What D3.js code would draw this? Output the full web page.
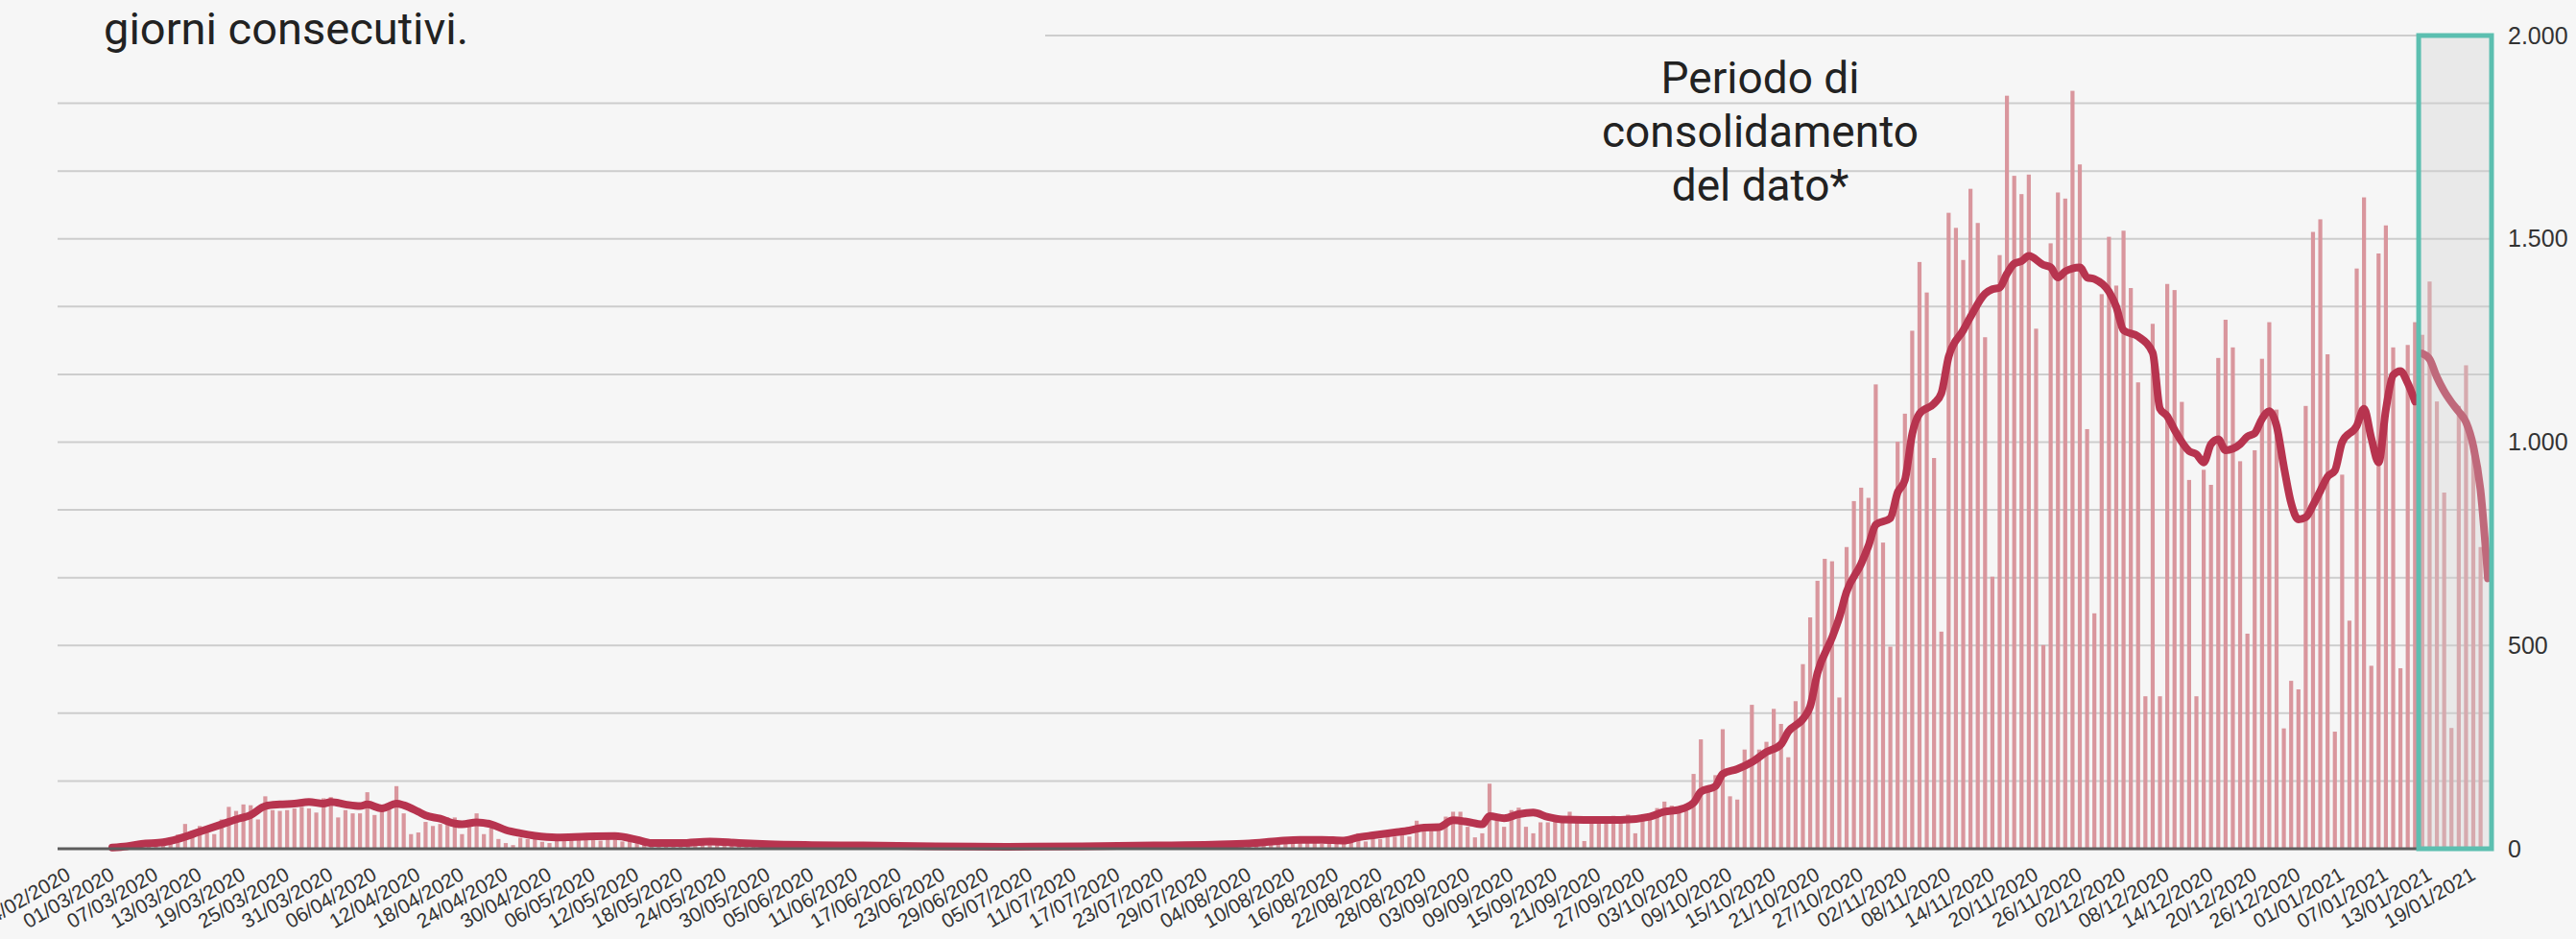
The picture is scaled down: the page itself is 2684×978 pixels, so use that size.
<!DOCTYPE html>
<html>
<head>
<meta charset="utf-8">
<script src="https://cdn.jsdelivr.net/npm/d3@7"></script>
<style>
  body { margin: 0; background: #f6f6f6; }
  svg { display: block; }
</style>
</head>
<body>
<div class="chart"></div>
<script>
// x domain: one band per day
const domainStart = "22/02/2020";
const domainEnd = "20/01/2021";
const consolidStart = "11/01/2021";

// daily counts, one value per day starting at firstBarDay
const firstBarDay = "29/02/2020";
const dailyCases = [
  1, 2, 4, 3, 6, 5, 9, 12, 16,
  35, 61, 44, 56, 40, 36, 72, 103, 93, 109, 107, 72, 129, 95, 93, 95, 99, 103, 99, 89,
  124, 127, 77, 95, 87, 87, 139, 83, 95, 103, 154, 87, 36, 40, 66, 56, 61, 77, 77, 36,
  54, 87, 36, 52, 24, 14, 9, 27, 24, 27, 17, 14, 19,
  28, 34, 22, 30, 38, 20, 32, 26, 18, 24, 14, 18, 10, 8, 12, 9, 11, 16, 12, 18, 14, 10,
  16, 12, 10, 14, 9, 11, 13, 8, 10, 9, 7, 11, 8, 6, 10, 9, 5, 8, 7, 9,
  6, 8, 5, 7, 9, 4, 6, 8, 5, 6, 4, 7, 5, 6, 3, 5, 6, 4, 7, 5,
  4, 6, 5, 7, 5, 6, 4, 8, 6, 5, 7, 6, 8, 5, 9, 7, 6, 10, 8, 7,
  9, 8, 11, 7, 10, 12, 9, 11, 13, 10, 12, 15, 11, 14,
  10, 14, 18, 12, 20, 16, 22, 18, 12, 24, 20, 14, 22, 38, 18, 26, 24, 42, 30, 36,
  30, 69, 57, 54, 54, 79, 91, 91, 54, 28, 38, 160, 69, 54, 95, 101, 54, 38, 65, 65,
  72, 69, 91, 69, 19, 75, 75, 75, 81, 75, 84, 38, 75, 81, 100, 116, 106, 94, 94, 184,
  269, 144, 181, 294, 129, 121, 244, 354, 244, 263, 344, 307, 225, 363, 454, 569, 659, 713, 707, 372,
  742, 855, 888, 863, 1142, 753, 497, 1001,
  1070, 1274, 1443, 1368, 961, 534, 1564, 1527, 1448, 1623, 1539, 1258, 669, 1460, 1852, 1655,
  1610, 1658, 1279, 501, 1489, 1614, 1599, 1864, 1683, 1032, 579, 1364, 1505, 1385, 1520, 1379,
  1147, 375, 1291, 375, 1389, 1374, 1099, 907, 375, 932, 895, 1207,
  1301, 1233, 953, 529, 980, 1205, 1295, 1080, 296, 413, 392, 1089, 1517, 1548, 1216, 288,
  920, 561, 1427, 1602, 450, 1464, 1533, 1233, 444, 1239, 1295, 1264, 1395, 1100, 876, 297,
  1089, 1189, 980, 742
];

// 7-day average line, read point by point
const avgDays = [
  "29/02/2020", "02/03/2020", "04/03/2020", "07/03/2020", "09/03/2020", "12/03/2020", "15/03/2020", "17/03/2020",
  "19/03/2020", "21/03/2020", "23/03/2020", "25/03/2020", "27/03/2020", "29/03/2020", "30/03/2020", "01/04/2020",
  "03/04/2020", "04/04/2020", "06/04/2020", "08/04/2020", "09/04/2020", "11/04/2020", "12/04/2020", "14/04/2020",
  "16/04/2020", "17/04/2020", "19/04/2020", "21/04/2020", "23/04/2020", "25/04/2020", "27/04/2020", "30/04/2020",
  "04/05/2020", "08/05/2020", "11/05/2020", "13/05/2020", "17/05/2020", "21/05/2020", "25/05/2020", "29/05/2020",
  "04/06/2020", "11/06/2020", "21/06/2020", "01/07/2020", "11/07/2020", "21/07/2020", "29/07/2020", "03/08/2020",
  "07/08/2020", "10/08/2020", "13/08/2020", "16/08/2020", "18/08/2020", "20/08/2020", "23/08/2020", "25/08/2020",
  "27/08/2020", "29/08/2020", "31/08/2020", "02/09/2020", "04/09/2020", "05/09/2020", "07/09/2020", "09/09/2020",
  "11/09/2020", "13/09/2020", "15/09/2020", "18/09/2020", "23/09/2020", "27/09/2020", "29/09/2020", "01/10/2020",
  "03/10/2020", "04/10/2020", "06/10/2020", "07/10/2020", "09/10/2020", "11/10/2020", "13/10/2020", "15/10/2020",
  "16/10/2020", "18/10/2020", "19/10/2020", "20/10/2020", "22/10/2020", "23/10/2020", "24/10/2020", "26/10/2020",
  "27/10/2020", "28/10/2020", "30/10/2020", "31/10/2020", "01/11/2020", "02/11/2020", "03/11/2020", "05/11/2020",
  "06/11/2020", "07/11/2020", "09/11/2020", "10/11/2020", "12/11/2020", "13/11/2020", "14/11/2020", "15/11/2020",
  "16/11/2020", "17/11/2020", "18/11/2020", "20/11/2020", "21/11/2020", "22/11/2020", "23/11/2020", "25/11/2020",
  "26/11/2020", "27/11/2020", "29/11/2020", "30/11/2020", "01/12/2020", "03/12/2020", "05/12/2020", "06/12/2020",
  "07/12/2020", "08/12/2020", "10/12/2020", "11/12/2020", "12/12/2020", "13/12/2020", "14/12/2020", "15/12/2020",
  "17/12/2020", "18/12/2020", "19/12/2020", "20/12/2020", "21/12/2020", "22/12/2020", "23/12/2020", "24/12/2020",
  "25/12/2020", "26/12/2020", "27/12/2020", "28/12/2020", "29/12/2020", "30/12/2020", "31/12/2020", "02/01/2021",
  "03/01/2021", "04/01/2021", "05/01/2021", "06/01/2021", "07/01/2021", "08/01/2021", "09/01/2021", "10/01/2021"
];
const avgValues = [
  3, 6, 12, 16, 24, 42, 60, 72,
  83, 105, 109, 111, 115, 111, 115, 109,
  105, 109, 99, 111, 107, 91, 82, 74,
  62, 60, 65, 60, 46, 38, 32, 28,
  30, 31, 22, 14, 14, 18, 14, 11,
  9, 8, 6, 5, 6, 8, 10, 13,
  19, 22, 22, 20, 28, 33, 40, 45,
  52, 53, 70, 66, 60, 80, 75, 85,
  89, 78, 72, 71, 71, 79, 91, 96,
  113, 140, 154, 184, 196, 213, 238, 257,
  288, 319, 350, 432, 519, 569, 632, 701,
  745, 797, 813, 876, 907, 1020, 1070, 1095,
  1120, 1210, 1275, 1308, 1365, 1376, 1380, 1414,
  1439, 1445, 1458, 1436, 1430, 1405, 1420, 1430,
  1405, 1401, 1370, 1333, 1275, 1260, 1220, 1082,
  1064, 1030, 978, 970, 950, 995, 1007, 980,
  995, 1014, 1022, 1057, 1076, 1040, 940, 850,
  810, 815, 845, 880, 915, 930, 1000, 1040,
  1082, 1010, 950, 1080, 1165, 1175, 1145, 1100
];

// average inside the consolidation window
const consolidDays = ["11/01/2021", "12/01/2021", "13/01/2021", "14/01/2021", "15/01/2021",
  "16/01/2021", "17/01/2021", "18/01/2021", "19/01/2021", "20/01/2021"];
const consolidValues = [1218, 1204, 1160, 1125, 1098, 1075, 1049, 990, 880, 665];

const yTicks = [0, 500, 1000, 1500, 2000];
const noteLines = ["Periodo di", "consolidamento", "del dato*"];
const titleTail = "giorni consecutivi.";

const width = 2684;
const height = 978;
const margin = {top: 37, right: 88, bottom: 94, left: 60};

const parse = d3.timeParse("%d/%m/%Y");
const fmt = d3.timeFormat("%d/%m/%Y");
const itFormat = d3.formatLocale({decimal: ",", thousands: ".", grouping: [3], currency: ["€", ""]}).format(",");

const days = d3.timeDay.range(parse(domainStart), d3.timeDay.offset(parse(domainEnd), 1)).map(fmt);
const tickDays = days.filter((d, i) => i % 6 === 2);

const bars = dailyCases.map((v, i) => ({day: fmt(d3.timeDay.offset(parse(firstBarDay), i)), value: v}));
const avg = avgDays.map((d, i) => ({day: d, value: avgValues[i]}));
const consolid = consolidDays.map((d, i) => ({day: d, value: consolidValues[i]}));

const x = d3.scaleBand()
  .domain(days)
  .range([margin.left, width - margin.right]);

const y = d3.scaleLinear()
  .domain([0, 2000])
  .range([height - margin.bottom, margin.top]);

const cx = d => x(d) + x.bandwidth() / 2;

const svg = d3.select(".chart")
  .append("svg")
  .attr("width", width)
  .attr("height", height);

svg.append("rect")
  .attr("width", width)
  .attr("height", height)
  .attr("fill", "#f6f6f6");

// gridlines every 1/12 of the scale; the top one is cut by the title block
const grid = d3.range(1, 13).map(k => k * 2000 / 12);
svg.append("g")
  .selectAll("line")
  .data(grid)
  .join("line")
  .attr("x1", d => d === 2000 ? 1089 : margin.left)
  .attr("x2", width - margin.right)
  .attr("y1", d => y(d))
  .attr("y2", d => y(d))
  .attr("stroke", "#cdcdcd")
  .attr("stroke-width", 2);

svg.append("g")
  .attr("fill", "#d9969d")
  .selectAll("rect")
  .data(bars)
  .join("rect")
  .attr("x", d => cx(d.day) - 2.1)
  .attr("width", 4.2)
  .attr("y", d => y(d.value))
  .attr("height", d => y(0) - y(d.value));

const line = d3.line()
  .x(d => cx(d.day))
  .y(d => y(d.value))
  .curve(d3.curveMonotoneX);

for (const series of [avg, consolid]) {
  svg.append("path")
    .datum(series)
    .attr("fill", "none")
    .attr("stroke", "#b7344f")
    .attr("stroke-width", 8)
    .attr("stroke-linejoin", "round")
    .attr("stroke-linecap", "round")
    .attr("d", line);
}

// x axis
svg.append("line")
  .attr("x1", margin.left)
  .attr("x2", width - margin.right)
  .attr("y1", y(0))
  .attr("y2", y(0))
  .attr("stroke", "#5c5c5c")
  .attr("stroke-width", 3);

svg.append("g")
  .attr("transform", `translate(0,${y(0)})`)
  .call(d3.axisBottom(x).tickValues(tickDays).tickSize(0))
  .call(g => g.select(".domain").remove())
  .selectAll("text")
  .attr("x", 0)
  .attr("y", 0)
  .attr("dy", 0)
  .attr("text-anchor", "end")
  .attr("transform", "translate(-4,31) rotate(-30)")
  .attr("font-family", "'Liberation Sans', Arial, sans-serif")
  .attr("font-size", 21)
  .attr("fill", "#333");

// consolidation window
const boxX = x(consolidStart);
svg.append("rect")
  .attr("x", boxX)
  .attr("y", y(2000))
  .attr("width", width - margin.right - boxX)
  .attr("height", y(0) - y(2000))
  .attr("fill", "#cfcfcf")
  .attr("fill-opacity", 0.34)
  .attr("stroke", "#5cbfb0")
  .attr("stroke-width", 5);

// y axis on the right
svg.append("g")
  .attr("transform", `translate(${width - 71},0)`)
  .call(d3.axisRight(y).tickValues(yTicks).tickSize(0).tickFormat(itFormat))
  .call(g => g.select(".domain").remove())
  .selectAll("text")
  .attr("x", 0)
  .attr("dy", "0.32em")
  .attr("font-family", "'Liberation Sans', Arial, sans-serif")
  .attr("font-size", 25)
  .attr("fill", "#333");

svg.append("text")
  .attr("x", 108)
  .attr("y", 46)
  .attr("font-family", "Roboto, sans-serif")
  .attr("font-size", 47)
  .attr("fill", "#222")
  .text(titleTail);

svg.append("g")
  .selectAll("text")
  .data(noteLines)
  .join("text")
  .attr("x", 1834)
  .attr("y", (d, i) => 97 + i * 56)
  .attr("text-anchor", "middle")
  .attr("font-family", "Roboto, sans-serif")
  .attr("font-size", 46)
  .attr("fill", "#222")
  .text(d => d);
</script>
</body>
</html>
